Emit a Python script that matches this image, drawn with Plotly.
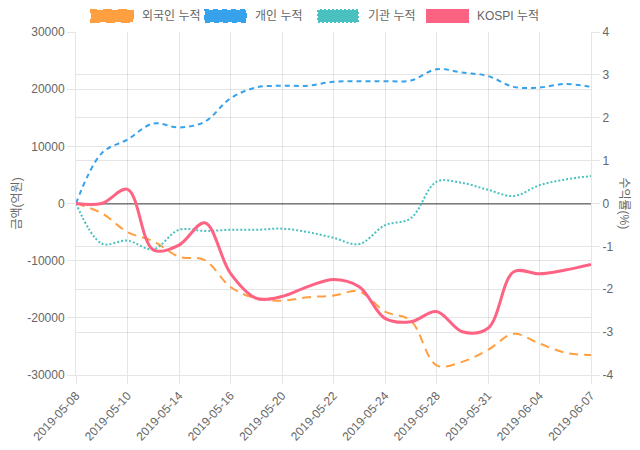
import plotly.graph_objects as go

dates = ["2019-05-08", "2019-05-09", "2019-05-10", "2019-05-13", "2019-05-14",
         "2019-05-15", "2019-05-16", "2019-05-17", "2019-05-20", "2019-05-21",
         "2019-05-22", "2019-05-23", "2019-05-24", "2019-05-27", "2019-05-28",
         "2019-05-29", "2019-05-31", "2019-06-03", "2019-06-04", "2019-06-05",
         "2019-06-07"]

foreign = [0, -1700, -5000, -6600, -9300, -9900, -14600, -16600, -17000, -16400,
           -16100, -15400, -18900, -20500, -28300, -27700, -25600, -22800, -24500,
           -26100, -26500]
individual = [0, 8800, 11200, 14000, 13300, 14300, 18400, 20300, 20600, 20600,
              21300, 21400, 21400, 21500, 23500, 22900, 22300, 20400, 20300,
              20900, 20400]
institution = [0, -7000, -6500, -8000, -4600, -4800, -4600, -4600, -4400, -5000,
               -6000, -7100, -3800, -2600, 3800, 3600, 2400, 1300, 3200, 4200, 4800]
kospi = [0, 0, 0.33, -1.08, -0.97, -0.45, -1.63, -2.21, -2.17, -1.94, -1.77,
         -1.94, -2.68, -2.76, -2.52, -2.99, -2.91, -1.59, -1.64, -1.55, -1.42]

series_names = ["외국인 누적", "개인 누적", "기관 누적", "KOSPI 누적"]
left_ticks = [-30000, -20000, -10000, 0, 10000, 20000, 30000]
right_ticks = [-4, -3, -2, -1, 0, 1, 2, 3, 4]
x_ticks = dates[::2]

FONT = "Liberation Sans, Arial, Noto Sans CJK KR, sans-serif"
GRID = "rgba(0,0,0,0.1)"
TXT = "#666666"
colors = ["#ff9f40", "#36a2eb", "#4bc0c0", "#ff6384"]
dashes = ["9px,6px", "5px,4px", "2px,2px", "solid"]

fig = go.Figure()
for name, vals, col, dsh, w in [
    (series_names[0], foreign, colors[0], dashes[0], 2),
    (series_names[1], individual, colors[1], dashes[1], 2),
    (series_names[2], institution, colors[2], dashes[2], 2),
]:
    fig.add_trace(go.Scatter(x=dates, y=vals, name=name, mode="lines",
                             line=dict(color=col, dash=dsh, width=w, shape="spline", smoothing=1),
                             showlegend=False, yaxis="y"))
fig.add_trace(go.Scatter(x=dates, y=kospi, name=series_names[3], mode="lines",
                         line=dict(color=colors[3], width=3, shape="spline", smoothing=1),
                         showlegend=False, yaxis="y2"))

# figure is placed by the page at an 8px offset; coordinates below are figure pixels
OFF = 8
W, H = 640 - 2 * OFF, 450 - 2 * OFF
L, R, T, B = 76 - OFF, 591 - OFF, 32 - OFF, 375 - OFF


def px(x):
    return (x - OFF - L) / (R - L)


def py(y):
    return (B - (y - OFF)) / (B - T)


shapes = []
annotations = []
legend_boxes = [(91, 133, 140), (205, 246, 253), (318, 358, 366), (427, 468, 475)]
for (x0, x1, tx), name, col, dsh in zip(legend_boxes, series_names, colors, dashes):
    shapes.append(dict(type="rect", xref="paper", yref="paper",
                       x0=px(x0), x1=px(x1), y0=py(22), y1=py(10),
                       fillcolor=col, line=dict(color=col, width=2, dash=dsh)))
    annotations.append(dict(x=px(tx), y=py(16), xref="paper", yref="paper",
                            text=name, showarrow=False, xanchor="left", yanchor="middle",
                            font=dict(family=FONT, size=12, color=TXT)))

annotations.append(dict(x=px(16), y=0.5, xref="paper", yref="paper",
                        text="금액(억원)", textangle=-90, showarrow=False,
                        xanchor="center", yanchor="middle",
                        font=dict(family=FONT, size=12, color=TXT)))
annotations.append(dict(x=px(624), y=0.5, xref="paper", yref="paper",
                        text="수익률(%)", textangle=90, showarrow=False,
                        xanchor="center", yanchor="middle",
                        font=dict(family=FONT, size=12, color=TXT)))

fig.update_layout(
    width=W, height=H,
    margin=dict(l=L, r=W - R, t=T, b=H - B, autoexpand=False),
    paper_bgcolor="white", plot_bgcolor="white",
    font=dict(family=FONT, size=12, color=TXT),
    shapes=shapes, annotations=annotations,
    xaxis=dict(type="category", range=[0, len(dates) - 1], tickvals=x_ticks, ticktext=x_ticks,
               tickangle=-47, showgrid=True, gridcolor=GRID, ticks="outside", ticklen=8,
               tickcolor=GRID, showline=True, linecolor=GRID, zeroline=False,
               tickfont=dict(family=FONT, size=12, color=TXT)),
    yaxis=dict(range=[-30000, 30000], tickvals=left_ticks, ticktext=[str(v) for v in left_ticks],
               showgrid=True, gridcolor=GRID, zeroline=True, zerolinecolor="rgba(0,0,0,0.3)",
               zerolinewidth=1, ticks="outside", ticklen=8, tickcolor=GRID,
               showline=True, linecolor=GRID, tickfont=dict(family=FONT, size=12, color=TXT)),
    yaxis2=dict(range=[-4, 4], tickvals=right_ticks, ticktext=[str(v) for v in right_ticks],
                overlaying="y", side="right", showgrid=True, gridcolor=GRID,
                zeroline=True, zerolinecolor="rgba(0,0,0,0.3)", ticks="outside", ticklen=8,
                tickcolor=GRID, showline=True, linecolor=GRID,
                tickfont=dict(family=FONT, size=12, color=TXT)),
)

fig.write_html("out.html")
